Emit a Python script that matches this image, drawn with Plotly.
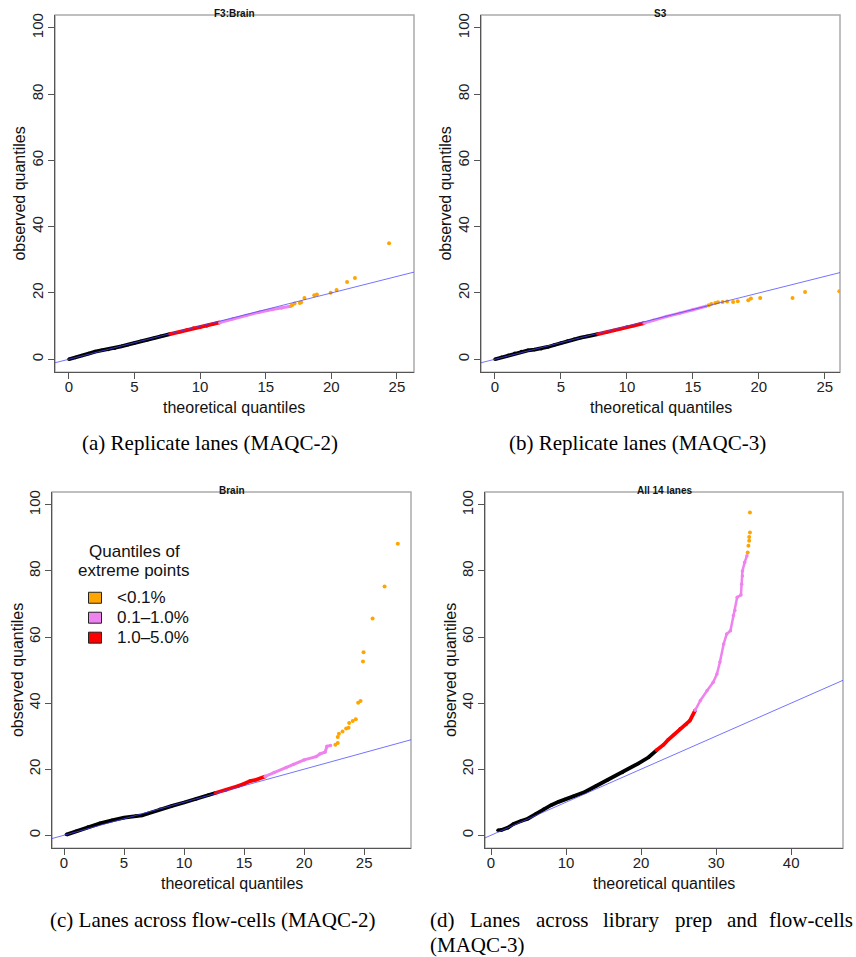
import plotly.graph_objects as go

W, H = 856, 957

# ---------------- data ----------------
a_black_x = [0, 0.5, 1.0, 1.5, 2.0, 2.5, 3.0, 3.5, 4.0, 4.5, 5.0, 5.5, 6.0, 6.5, 7.0, 7.7]
a_black_y = [0, 0.5, 1.1, 1.7, 2.3, 2.7, 2.9, 3.3, 3.9, 4.4, 4.9, 5.4, 5.9, 6.4, 6.9, 7.6]
a_red_x = [7.7, 8.5, 9.0, 9.5, 10.0, 10.5, 11.0, 11.5]
a_red_y = [7.6, 8.3, 8.9, 9.4, 9.6, 10.0, 10.6, 11.1]
a_violet_x = [11.5, 12.5, 13.5, 14.5, 15.5, 16.2, 16.9]
a_violet_y = [11.1, 12.2, 13.2, 14.2, 15.0, 15.5, 16.0]
a_orange_x = [17.0, 17.2, 17.6, 17.7, 17.95, 18.7, 18.9, 19.95, 20.4, 21.2, 21.8, 24.4]
a_orange_y = [16.3, 16.8, 17.0, 17.2, 18.5, 19.3, 19.5, 20.1, 20.9, 23.3, 24.5, 35.0]

b_black_x = [0, 0.5, 1, 1.5, 2, 2.5, 3, 3.5, 4, 4.5, 5, 5.5, 6, 6.5, 7, 7.8]
b_black_y = [0, 0.6, 1.2, 1.8, 2.3, 2.7, 2.9, 3.2, 3.7, 4.3, 4.9, 5.5, 6.0, 6.5, 6.9, 7.6]
b_red_x = [7.8, 8.5, 9.0, 9.5, 10.0, 10.5, 11.3]
b_red_y = [7.6, 8.2, 8.7, 9.2, 9.7, 10.1, 10.9]
b_violet_x = [11.3, 12.0, 13.0, 14.0, 15.0, 16.0]
b_violet_y = [10.9, 11.8, 12.9, 13.9, 14.9, 16.0]
b_orange_x = [16.2, 16.4, 16.7, 16.9, 17.25, 17.6, 18.05, 18.4, 19.2, 19.4, 20.1, 22.55, 23.5, 26.1]
b_orange_y = [16.3, 16.7, 17.0, 17.2, 17.3, 17.4, 17.3, 17.5, 17.8, 18.3, 18.5, 18.5, 20.3, 20.5]

c_black_x = [0.2, 1, 2, 3, 4, 5, 6, 6.5, 7, 8, 9, 10, 11, 12, 12.6]
c_black_y = [0.2, 1.2, 2.5, 3.6, 4.5, 5.3, 5.8, 6.0, 6.6, 7.9, 8.9, 9.9, 11.0, 12.1, 12.8]
c_red_x = [12.6, 13.5, 14.5, 15.0, 15.5, 16.0, 16.75]
c_red_y = [12.8, 13.7, 14.9, 15.6, 16.4, 16.8, 17.8]
c_violet_x = [16.75, 17.5, 18.5, 19.1, 20.0, 21.0, 21.3, 21.75, 21.9, 22.2]
c_violet_y = [17.8, 19.0, 20.5, 21.4, 22.8, 23.8, 24.6, 25.2, 26.9, 27.2]
c_orange_x = [22.6, 22.8, 22.8, 22.9, 23.2, 23.5, 23.7, 23.75, 24.05, 24.3, 24.5, 24.7,
              24.9, 24.95, 25.7, 26.7, 27.8]
c_orange_y = [27.4, 27.9, 29.7, 30.7, 31.4, 32.3, 32.5, 34.0, 34.6, 35.1, 40.1, 40.6,
              52.6, 55.4, 65.6, 75.3, 88.2]

d_black_x = [0.93, 1.4, 2.27, 3, 4, 4.9, 6, 7, 8.0, 9.0, 9.8, 11, 12.5, 14, 15.6, 17.5, 19.6, 21, 22.05]
d_black_y = [1.5, 1.6, 2.3, 3.4, 4.3, 5.0, 6.5, 7.9, 9.1, 10.1, 10.8, 11.8, 13.1, 14.9, 16.8, 19.0, 21.7, 23.6, 25.7]
d_red_x = [22.05, 23.0, 23.6, 24.4, 25.2, 26.0, 26.5, 27.2]
d_red_y = [25.7, 27.4, 28.9, 30.5, 32.2, 33.5, 34.7, 37.8]
d_violet_x = [27.2, 27.9, 28.8, 29.6, 30.1, 30.5, 31.0, 31.4, 31.9, 32.3, 32.5, 32.8, 33.3,
              33.4, 33.5, 33.5, 33.8, 34.1]
d_violet_y = [37.8, 40.8, 43.8, 46.3, 48.8, 52.4, 57.9, 60.9, 61.9, 66.5, 68.0, 72.0, 72.7,
              76.0, 78.5, 80.0, 82.6, 84.6]
d_orange_x = [34.2, 34.3, 34.4, 34.4, 34.5, 34.5]
d_orange_y = [85.6, 87.6, 89.1, 90.3, 91.6, 97.7]

titles = ["F3:Brain", "S3", "Brain", "All 14 lanes"]
x_ticks = [[0, 5, 10, 15, 20, 25], [0, 5, 10, 15, 20, 25], [0, 5, 10, 15, 20, 25], [0, 10, 20, 30, 40]]
y_ticks = [0, 20, 40, 60, 80, 100]
legend_title = ["Quantiles of", "extreme points"]
legend_labels = ["<0.1%", "0.1\u20131.0%", "1.0\u20135.0%"]
captions = ["(a) Replicate lanes (MAQC-2)", "(b) Replicate lanes (MAQC-3)",
            "(c) Lanes across flow-cells (MAQC-2)"]
caption_d = ["(d)", "Lanes", "across", "library", "prep", "and", "flow-cells"]
caption_d2 = "(MAQC-3)"

# ---------------- layout geometry (pixels) ----------------
boxes = [  # left, right, top, bottom
    (55, 414, 13, 371),
    (481, 840, 13, 371),
    (52, 411, 491, 848),
    (485, 843, 491, 848),
]
x_ranges = [[-1.06, 26.3], [-1.06, 26.15], [-1.0, 28.9], [-0.8, 46.9]]
y_ranges = [[-3.92, 103.9], [-3.92, 103.9], [-3.93, 103.9], [-3.93, 103.9]]

BLACK, RED, VIOLET, ORANGE = "#000000", "#ff0000", "#ee82ee", "#ffa500"
LINE = "rgba(70,70,255,0.75)"

panels = [
    (a_black_x, a_black_y, a_red_x, a_red_y, a_violet_x, a_violet_y, a_orange_x, a_orange_y),
    (b_black_x, b_black_y, b_red_x, b_red_y, b_violet_x, b_violet_y, b_orange_x, b_orange_y),
    (c_black_x, c_black_y, c_red_x, c_red_y, c_violet_x, c_violet_y, c_orange_x, c_orange_y),
    (d_black_x, d_black_y, d_red_x, d_red_y, d_violet_x, d_violet_y, d_orange_x, d_orange_y),
]

fig = go.Figure()
shapes = []
annotations = []


def px2fx(p):
    return p / W


def px2fy(p):
    return 1 - p / H


for i, (bx, by, rx, ry, vx, vy, ox, oy) in enumerate(panels):
    n = "" if i == 0 else str(i + 1)
    xa, ya = "x" + n, "y" + n
    l, r, t, b = boxes[i]

    fig.add_trace(go.Scatter(x=bx, y=by, xaxis=xa, yaxis=ya, mode="lines+markers",
                             line=dict(color=BLACK, width=3.8), marker=dict(color=BLACK, size=3.5),
                             showlegend=False, hoverinfo="skip"))
    fig.add_trace(go.Scatter(x=rx, y=ry, xaxis=xa, yaxis=ya, mode="lines+markers",
                             line=dict(color=RED, width=3.8), marker=dict(color=RED, size=3.5),
                             showlegend=False, hoverinfo="skip"))
    fig.add_trace(go.Scatter(x=vx, y=vy, xaxis=xa, yaxis=ya, mode="lines+markers",
                             line=dict(color=VIOLET, width=3 if i < 3 else 2.5),
                             marker=dict(color=VIOLET, size=3.5),
                             showlegend=False, hoverinfo="skip"))
    fig.add_trace(go.Scatter(x=ox, y=oy, xaxis=xa, yaxis=ya, mode="markers",
                             marker=dict(color=ORANGE, size=4),
                             showlegend=False, hoverinfo="skip", cliponaxis=True))
    # reference line y = x across the plotting range
    xr = x_ranges[i]
    fig.add_trace(go.Scatter(x=xr, y=xr, xaxis=xa, yaxis=ya, mode="lines",
                             line=dict(color=LINE, width=1),
                             showlegend=False, hoverinfo="skip"))

    axis_common = dict(showgrid=False, zeroline=False, ticks="outside", ticklen=6,
                       tickcolor="#555", tickwidth=1, showline=True, linecolor="#555",
                       linewidth=1, tickfont=dict(family="Liberation Sans", size=15, color="#222"))
    fig.layout["xaxis" + n] = dict(domain=[px2fx(l), px2fx(r)], range=xr, anchor=ya,
                                   tickvals=x_ticks[i], ticklabelstandoff=-5, **axis_common)
    fig.layout["yaxis" + n] = dict(domain=[px2fy(b), px2fy(t)], range=y_ranges[i], anchor=xa,
                                   tickvals=y_ticks, tickangle=-90, ticklabelstandoff=-1,
                                   **axis_common)

    # light grey box
    shapes.append(dict(type="rect", xref="paper", yref="paper",
                       x0=px2fx(l), x1=px2fx(r), y0=px2fy(b), y1=px2fy(t),
                       line=dict(color="#aaaaaa", width=1.5), layer="below"))
    # title on the top border
    annotations.append(dict(text="<b>" + titles[i] + "</b>", xref="paper", yref="paper",
                            x=px2fx((l + r) / 2), y=px2fy(t - 1), showarrow=False,
                            font=dict(family="Liberation Sans", size=10, color="#111"),
                            xanchor="center", yanchor="middle"))
    # axis titles
    annotations.append(dict(text="theoretical quantiles", xref="paper", yref="paper",
                            x=px2fx((l + r) / 2), y=px2fy(b + 35), showarrow=False,
                            font=dict(family="Liberation Sans", size=16, color="#111"),
                            xanchor="center", yanchor="middle"))
    annotations.append(dict(text="observed quantiles", xref="paper", yref="paper",
                            x=px2fx(l - 35), y=px2fy((t + b) / 2), showarrow=False,
                            textangle=-90,
                            font=dict(family="Liberation Sans", size=16, color="#111"),
                            xanchor="center", yanchor="middle"))

# captions
CAP_FONT = dict(family="Liberation Serif", size=21, color="#000")
cap_pos = [(210, 442), (637, 442), (212, 920)]
for txt, (cx, cy) in zip(captions, cap_pos):
    annotations.append(dict(text=txt, xref="paper", yref="paper", x=px2fx(cx), y=px2fy(cy),
                            showarrow=False, xanchor="center", yanchor="middle", font=CAP_FONT))
# justified first line of caption (d)
word_x = [428, 468, 534, 601, 673, 725, 771]
for k, (wtxt, wx) in enumerate(zip(caption_d, word_x)):
    last = k == len(caption_d) - 1
    annotations.append(dict(text=wtxt, xref="paper", yref="paper",
                            x=px2fx(855 if last else wx), y=px2fy(920),
                            showarrow=False, xanchor="right" if last else "left",
                            yanchor="middle", font=CAP_FONT))
annotations.append(dict(text=caption_d2, xref="paper", yref="paper", x=px2fx(428), y=px2fy(945),
                        showarrow=False, xanchor="left", yanchor="middle", font=CAP_FONT))

# legend in panel (c)
LEG_FONT = dict(family="Liberation Sans", size=17, color="#111")
annotations.append(dict(text=legend_title[0], xref="paper", yref="paper", x=px2fx(134), y=px2fy(551),
                        showarrow=False, xanchor="center", yanchor="middle", font=LEG_FONT))
annotations.append(dict(text=legend_title[1], xref="paper", yref="paper", x=px2fx(134), y=px2fy(570),
                        showarrow=False, xanchor="center", yanchor="middle", font=LEG_FONT))
leg_cols = [ORANGE, VIOLET, RED]
leg_y = [597, 617, 637]
for lab, col, ly in zip(legend_labels, leg_cols, leg_y):
    shapes.append(dict(type="rect", xref="paper", yref="paper",
                       x0=px2fx(88.5), x1=px2fx(101.5), y0=px2fy(ly + 5.5), y1=px2fy(ly - 5.5),
                       fillcolor=col, line=dict(color="#222", width=1)))
    annotations.append(dict(text=lab, xref="paper", yref="paper", x=px2fx(115), y=px2fy(ly),
                            showarrow=False, xanchor="left", yanchor="middle", font=LEG_FONT))

fig.update_layout(width=W, height=H, margin=dict(l=0, r=0, t=0, b=0),
                  paper_bgcolor="white", plot_bgcolor="white",
                  shapes=shapes, annotations=annotations, showlegend=False)

fig.write_html("out.html", config={"displayModeBar": False},
               post_script="document.body.style.margin='0px';document.body.style.overflow='hidden';")
